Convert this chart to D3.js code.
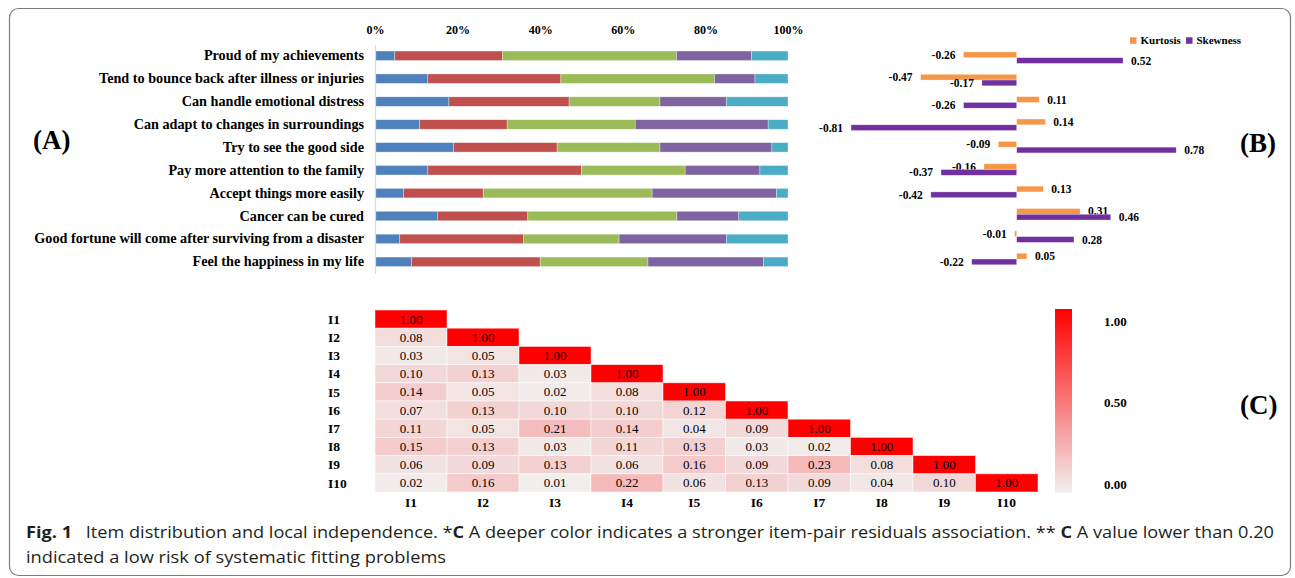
<!DOCTYPE html>
<html>
<head>
<meta charset="utf-8">
<script src="https://cdn.jsdelivr.net/npm/d3@7"></script>
<style>
  html, body { margin: 0; padding: 0; background: #fff; }
  svg { display: block; }
</style>
</head>
<body>
<svg id="fig" width="1295" height="578"></svg>
<script>
// ---------- Data ----------
const items = [
  "Proud of my achievements",
  "Tend to bounce back after illness or injuries",
  "Can handle emotional distress",
  "Can adapt to changes in surroundings",
  "Try to see the good side",
  "Pay more attention to the family",
  "Accept things more easily",
  "Cancer can be cured",
  "Good fortune will come after surviving from a disaster",
  "Feel the happiness in my life"
];
// Response shares (%) per item, lowest to highest response level
const level1 = [4.8, 12.8, 17.9, 10.8, 19.0, 12.8, 6.9, 15.1, 6.0, 8.9];
const level2 = [26.1, 32.2, 29.1, 21.2, 25.1, 37.2, 19.3, 21.9, 30.0, 31.1];
const level3 = [42.1, 37.2, 22.0, 31.0, 24.9, 25.1, 40.9, 36.1, 23.1, 26.1];
const level4 = [18.2, 9.8, 16.1, 32.2, 27.1, 18.1, 30.1, 15.0, 26.0, 28.0];
const level5 = [8.8, 8.0, 14.9, 4.8, 3.9, 6.8, 2.8, 11.9, 14.9, 5.9];
const percentTicks = [0, 20, 40, 60, 80, 100];
const percentLabels = ["0%", "20%", "40%", "60%", "80%", "100%"];

const momentNames = ["Kurtosis", "Skewness"];
const kurtosis = [-0.26, -0.47, 0.11, 0.14, -0.09, -0.16, 0.13, 0.31, -0.01, 0.05];
const skewness = [0.52, -0.17, -0.26, -0.81, 0.78, -0.37, -0.42, 0.46, 0.28, -0.22];

const itemCodes = ["I1", "I2", "I3", "I4", "I5", "I6", "I7", "I8", "I9", "I10"];
// Lower triangle of item-pair residual correlations (row i, columns 1..i)
const residuals = [
  [1.00],
  [0.08, 1.00],
  [0.03, 0.05, 1.00],
  [0.10, 0.13, 0.03, 1.00],
  [0.14, 0.05, 0.02, 0.08, 1.00],
  [0.07, 0.13, 0.10, 0.10, 0.12, 1.00],
  [0.11, 0.05, 0.21, 0.14, 0.04, 0.09, 1.00],
  [0.15, 0.13, 0.03, 0.11, 0.13, 0.03, 0.02, 1.00],
  [0.06, 0.09, 0.13, 0.06, 0.16, 0.09, 0.23, 0.08, 1.00],
  [0.02, 0.16, 0.01, 0.22, 0.06, 0.13, 0.09, 0.04, 0.10, 1.00]
];
const scaleTicks = [0, 0.5, 1];
const scaleTickLabels = ["0.00", "0.50", "1.00"];

// ---------- Setup ----------
const svg = d3.select("#fig");
const SERIF = '"Liberation Serif", "Times New Roman", serif';
// two decimals with a plain hyphen for negatives
const fmt2 = v => (v < 0 ? "-" : "") + Math.abs(v).toFixed(2);

// Figure frame
svg.append("rect")
  .attr("x", 9.5).attr("y", 8.5).attr("width", 1281).attr("height", 567)
  .attr("rx", 9).attr("fill", "none").attr("stroke", "#7b7b7b").attr("stroke-width", 1.2);

// ---------- (A) stacked bars ----------
const levelKeys = ["l1", "l2", "l3", "l4", "l5"];
const levelColors = ["#4f81bd", "#c0504d", "#9bbb59", "#8064a2", "#4bacc6"];
const rowsA = items.map((name, i) => ({
  name, l1: level1[i], l2: level2[i], l3: level3[i], l4: level4[i], l5: level5[i]
}));
const xA = d3.scaleLinear().domain([0, 100]).range([375, 788]);
const yA = d3.scaleBand().domain(items).range([44.4, 273.2]).paddingInner(0.585).paddingOuter(0.29);
const stackA = d3.stack().keys(levelKeys)(rowsA);

const gA = svg.append("g");
gA.selectAll("g.layer").data(stackA).join("g")
  .attr("class", "layer")
  .attr("fill", (d, i) => levelColors[i])
  .selectAll("rect").data(d => d).join("rect")
  .attr("x", d => xA(d[0]))
  .attr("width", d => xA(d[1]) - xA(d[0]))
  .attr("y", d => yA(d.data.name))
  .attr("height", yA.bandwidth())
  .attr("stroke", "rgba(255,255,255,0.55)")
  .attr("stroke-width", 0.6);

const axTop = gA.append("g")
  .attr("transform", "translate(0,34)")
  .call(d3.axisTop(xA).tickValues(percentTicks).tickFormat((d, i) => percentLabels[i]).tickSize(0).tickPadding(0));
axTop.select(".domain").remove();
axTop.selectAll("text").attr("font-family", SERIF).attr("font-weight", "bold").attr("font-size", 12).attr("fill", "#000");

const axLeft = gA.append("g")
  .attr("transform", "translate(375,0)")
  .call(d3.axisLeft(yA).tickSize(0).tickPadding(11));
axLeft.select(".domain").attr("stroke", "#d9d9d9").attr("stroke-width", 1.2);
axLeft.selectAll("text").attr("font-family", SERIF).attr("font-weight", "bold").attr("font-size", 14.2).attr("fill", "#000");

// ---------- (B) kurtosis / skewness ----------
const rowsB = items.map((name, i) => ({ name, Kurtosis: kurtosis[i], Skewness: skewness[i] }));
const momentColors = { Kurtosis: "#f79646", Skewness: "#7030a0" };
const xB = d3.scaleLinear().domain([-1, 1]).range([812.2, 1221.2]);
const yB = d3.scaleBand().domain(items).range([46.5, 270.2]).paddingInner(0.486).paddingOuter(0.243);
const yBi = d3.scaleBand().domain(momentNames).range([0, yB.bandwidth()]);

const gB = svg.append("g");
const rowG = gB.selectAll("g.row").data(rowsB).join("g")
  .attr("class", "row")
  .attr("transform", d => `translate(0,${yB(d.name)})`);
const cellsB = rowG.selectAll("g.m").data(d => momentNames.map(k => ({ key: k, value: d[k] }))).join("g").attr("class", "m");
cellsB.append("rect")
  .attr("x", d => xB(Math.min(0, d.value)))
  .attr("width", d => Math.abs(xB(d.value) - xB(0)))
  .attr("y", d => yBi(d.key))
  .attr("height", yBi.bandwidth())
  .attr("fill", d => momentColors[d.key])
  .attr("stroke", "rgba(255,255,255,0.5)")
  .attr("stroke-width", 0.6);
cellsB.append("text")
  .attr("x", d => d.value < 0 ? xB(d.value) - 8 : xB(d.value) + 8)
  .attr("y", d => yBi(d.key) + yBi.bandwidth() / 2)
  .attr("dy", "0.35em")
  .attr("text-anchor", d => d.value < 0 ? "end" : "start")
  .attr("font-family", SERIF).attr("font-weight", "bold").attr("font-size", 11.5)
  .text(d => fmt2(d.value));

// Legend
const legB = gB.append("g").attr("transform", "translate(1130,40.5)");
momentNames.forEach((k, i) => {
  const x0 = i === 0 ? 0 : 56;
  legB.append("rect").attr("x", x0).attr("y", -3.2).attr("width", 6.5).attr("height", 6.5).attr("fill", momentColors[k]);
  legB.append("text").attr("x", x0 + 10.5).attr("y", 0).attr("dy", "0.35em")
    .attr("font-family", SERIF).attr("font-weight", "bold").attr("font-size", 11).text(k);
});

// ---------- (C) residual correlation heatmap ----------
const xC = d3.scaleLinear().domain([0, 4, 10]).range([375, 663, 1038]);
const yC = d3.scaleBand().domain(itemCodes).range([310, 492]);
const heat = d3.scaleLinear().domain([0, 1]).range(["#f2f0f0", "#ff0000"]).interpolate(d3.interpolateRgb);

const cellsC = [];
residuals.forEach((row, i) => row.forEach((v, j) => cellsC.push({ i, j, v })));
const gC = svg.append("g");
const cc = gC.selectAll("g.cell").data(cellsC).join("g").attr("class", "cell");
cc.append("rect")
  .attr("x", d => xC(d.j))
  .attr("width", d => xC(d.j + 1) - xC(d.j))
  .attr("y", d => yC(itemCodes[d.i]))
  .attr("height", yC.bandwidth())
  .attr("fill", d => heat(d.v))
  .attr("stroke", "rgba(255,255,255,0.6)")
  .attr("stroke-width", 0.8);
cc.append("text")
  .attr("x", d => (xC(d.j) + xC(d.j + 1)) / 2)
  .attr("y", d => yC(itemCodes[d.i]) + yC.bandwidth() / 2)
  .attr("dy", "0.35em")
  .attr("text-anchor", "middle")
  .attr("font-family", SERIF).attr("font-size", 13).attr("fill", "#000")
  .text(d => fmt2(d.v));

gC.selectAll("text.rowlab").data(itemCodes).join("text")
  .attr("class", "rowlab")
  .attr("x", 328)
  .attr("y", d => yC(d) + yC.bandwidth() / 2)
  .attr("dy", "0.35em")
  .attr("font-family", SERIF).attr("font-weight", "bold").attr("font-size", 13.5)
  .text(d => d);
gC.selectAll("text.collab").data(itemCodes).join("text")
  .attr("class", "collab")
  .attr("x", (d, j) => (xC(j) + xC(j + 1)) / 2)
  .attr("y", 502)
  .attr("dy", "0.35em")
  .attr("text-anchor", "middle")
  .attr("font-family", SERIF).attr("font-weight", "bold").attr("font-size", 13.5)
  .text(d => d);

// Colour scale bar
const grad = svg.append("defs").append("linearGradient")
  .attr("id", "heatGrad").attr("x1", 0).attr("y1", 1).attr("x2", 0).attr("y2", 0);
d3.range(0, 1.0001, 0.1).forEach(t => {
  grad.append("stop").attr("offset", t).attr("stop-color", heat(t));
});
gC.append("rect")
  .attr("x", 1055).attr("y", 309).attr("width", 17).attr("height", 184)
  .attr("fill", "url(#heatGrad)");
const yLeg = d3.scaleLinear().domain([0, 1]).range([484, 321]);
gC.selectAll("text.legtick").data(scaleTicks).join("text")
  .attr("class", "legtick")
  .attr("x", 1104)
  .attr("y", d => yLeg(d))
  .attr("dy", "0.35em")
  .attr("font-family", SERIF).attr("font-weight", "bold").attr("font-size", 13)
  .text((d, i) => scaleTickLabels[i]);

// ---------- Panel letters ----------
const panels = [
  { t: "(A)", x: 33, y: 140 },
  { t: "(B)", x: 1240, y: 143 },
  { t: "(C)", x: 1240, y: 405 }
];
svg.selectAll("text.panel").data(panels).join("text")
  .attr("class", "panel")
  .attr("x", d => d.x).attr("y", d => d.y).attr("dy", "0.35em")
  .attr("font-family", SERIF).attr("font-weight", "bold").attr("font-size", 27)
  .text(d => d.t);

// ---------- Caption ----------
const CAP = '"Open Sans", "Noto Sans", sans-serif';
const cap1 = svg.append("text")
  .attr("x", 26).attr("y", 538)
  .attr("font-family", CAP).attr("font-size", 15.8).attr("fill", "#231f20")
  .attr("textLength", 1248).attr("lengthAdjust", "spacingAndGlyphs");
cap1.append("tspan").attr("font-weight", "bold").text("Fig. 1");
cap1.append("tspan").text("\u2002 Item distribution and local independence. *");
cap1.append("tspan").attr("font-weight", "bold").text("C");
cap1.append("tspan").text(" A deeper color indicates a stronger item-pair residuals association. ** ");
cap1.append("tspan").attr("font-weight", "bold").text("C");
cap1.append("tspan").text(" A value lower than 0.20");

svg.append("text")
  .attr("x", 26).attr("y", 563)
  .attr("font-family", CAP).attr("font-size", 15.8).attr("fill", "#231f20")
  .attr("textLength", 420).attr("lengthAdjust", "spacingAndGlyphs")
  .text("indicated a low risk of systematic fitting problems");
</script>
</body>
</html>
